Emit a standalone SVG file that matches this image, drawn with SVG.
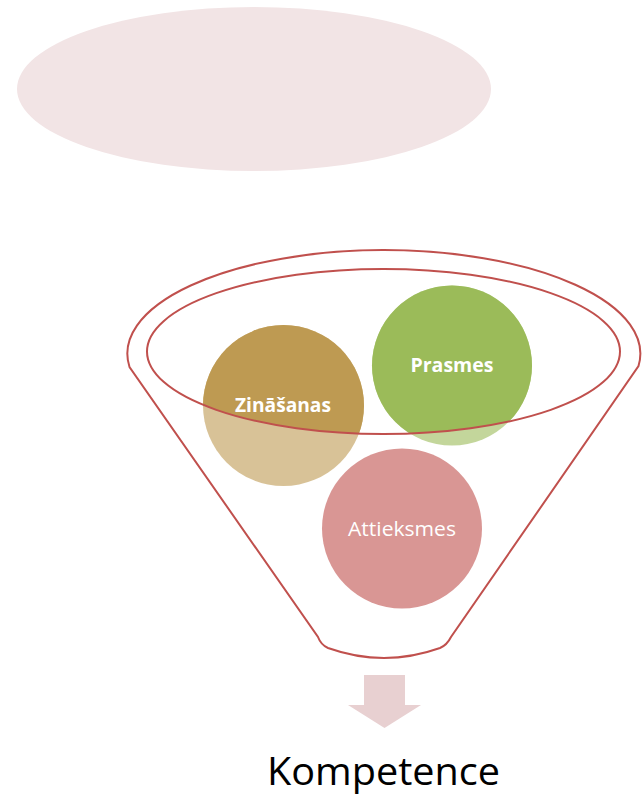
<svg xmlns="http://www.w3.org/2000/svg" width="644" height="797" viewBox="0 0 644 797">
  <style>
    .rim { fill: none; stroke: #c0504d; stroke-width: 2; }
    .lbl { fill: #ffffff; font-family: "Open Sans", "Noto Sans", "Liberation Sans", sans-serif; font-size: 19.5px; text-anchor: middle; }
    .bold { font-weight: bold; }
  </style>
  <defs>
    <clipPath id="mouth">
      <ellipse cx="383.5" cy="351.5" rx="236.5" ry="82.5"/>
    </clipPath>
  </defs>

  <!-- pale oval at the top -->
  <g id="cloud">
    <ellipse cx="254" cy="89" rx="237" ry="82" fill="#f2e4e5"/>
  </g>

  <!-- circles: faded outside the funnel mouth, full colour inside -->
  <g id="zinasanas">
    <circle cx="283.5" cy="405.5" r="80.5" fill="#be9a52" opacity="0.6"/>
    <circle cx="283.5" cy="405.5" r="80.5" fill="#be9a52" clip-path="url(#mouth)"/>
    <text class="lbl bold" x="283" y="412" textLength="96" lengthAdjust="spacingAndGlyphs">Zināšanas</text>
  </g>
  <g id="prasmes">
    <circle cx="452" cy="365.5" r="80" fill="#9bbb59" opacity="0.6"/>
    <circle cx="452" cy="365.5" r="80" fill="#9bbb59" clip-path="url(#mouth)"/>
    <text class="lbl bold" x="452" y="372" textLength="83" lengthAdjust="spacingAndGlyphs">Prasmes</text>
  </g>
  <g id="attieksmes">
    <circle cx="402" cy="528.5" r="80" fill="#d99694"/>
    <text class="lbl" x="402" y="536" textLength="108" lengthAdjust="spacingAndGlyphs">Attieksmes</text>
  </g>

  <!-- funnel outline -->
  <g id="funnel">
    <path class="rim" d="M 129.5 367 A 256.5 103.5 0 1 1 638.5 366 L 451 637 Q 447 645 440 648 Q 384 668 328 648 Q 321 645 318 637 Z"/>
    <ellipse class="rim" cx="383.5" cy="351.5" rx="236.5" ry="82.5"/>
  </g>

  <!-- output arrow -->
  <g id="connectors">
    <path d="M 364 675 L 405 675 L 405 705 L 421 705 L 384.5 728 L 348 705 L 364 705 Z" fill="#e8d0d1"/>
  </g>

  <g id="kompetence">
    <text x="383.5" y="785" font-family="Open Sans, Noto Sans, Liberation Sans, sans-serif" font-size="39" fill="#000000" text-anchor="middle" textLength="233" lengthAdjust="spacingAndGlyphs">Kompetence</text>
  </g>
</svg>
